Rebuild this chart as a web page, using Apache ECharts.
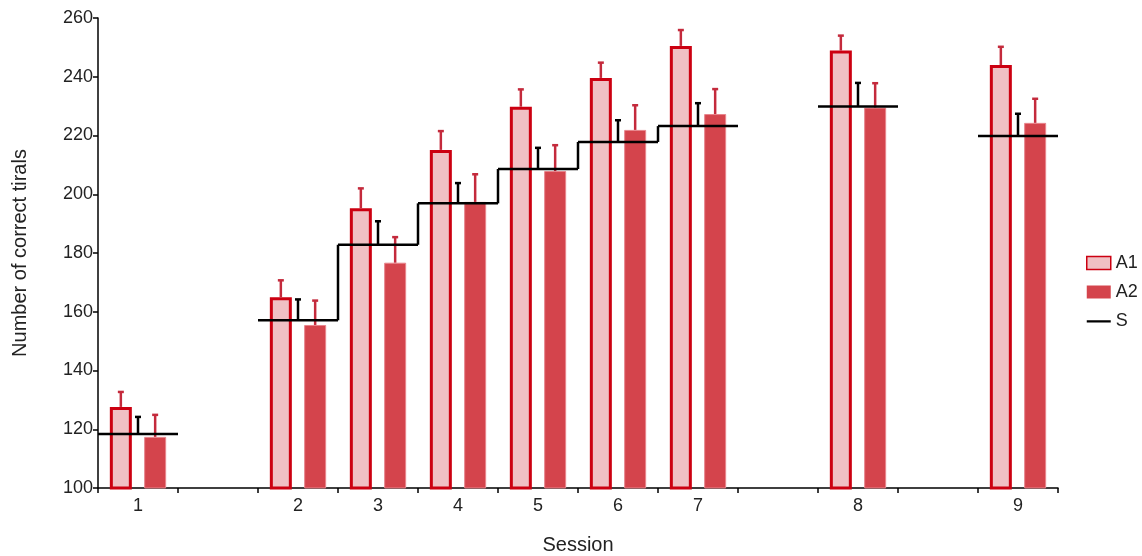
<!DOCTYPE html>
<html>
<head>
<meta charset="utf-8">
<script src="https://cdn.jsdelivr.net/npm/echarts@6/dist/echarts.min.js"></script>
<style>
  html, body { margin: 0; padding: 0; background: #fff; }
  #chart { width: 1142px; height: 556px; }
</style>
</head>
<body>
<div id="chart"></div>
<script>
// Sessions and the sessions that are preceded by an empty slot on the axis
const sessions = ['1', '2', '3', '4', '5', '6', '7', '8', '9'];
const spacerBefore = ['2', '8', '9'];

// Mean number of correct trials per session and group
const a1Values = [127.6, 164.9, 195.2, 215.1, 229.8, 239.6, 250.5, 248.9, 244.0];
const a2Values = [117.4, 155.5, 176.7, 197.4, 207.9, 221.9, 227.3, 229.5, 224.3];
const sValues  = [118.4, 157.1, 182.8, 196.9, 208.6, 217.8, 223.2, 229.9, 219.8];

// Upper error (one-sided) per session
const a1Err = [5.1, 5.8, 6.8, 6.4, 5.9, 5.2, 5.4, 5.1, 6.2];
const a2Err = [7.5, 8.3, 8.7, 9.4, 8.8, 8.4, 8.5, 8.3, 8.2];
const sErr  = [5.8, 7.1, 8.0, 6.9, 7.2, 7.4, 7.8, 8.0, 7.6];

const yTicks = { min: 100, max: 260, interval: 20 };

// Build the axis categories with empty spacer slots
const axisCats = [];
const slotOf = [];
let spacerCount = 0;
sessions.forEach((s) => {
  if (spacerBefore.includes(s)) axisCats.push('_gap' + (spacerCount++));
  slotOf.push(axisCats.length);
  axisCats.push(s);
});
function toSlots(arr) {
  const out = axisCats.map(() => null);
  arr.forEach((v, i) => { out[slotOf[i]] = v; });
  return out;
}

const BAR_W = 22;
const BAR_GAP = 0.56;
const barOffset = (BAR_W + BAR_W * BAR_GAP) / 2; // centre offset of each bar from slot centre

const errRed = '#c42a3c';
const fontFamily = '"Liberation Sans", Arial, sans-serif';

function errorData(vals, errs) {
  return vals.map((v, i) => [slotOf[i], v, errs[i]]);
}

function makeErrorRenderer(dx, color) {
  return function (params, api) {
    const base = api.coord([api.value(0), api.value(1)]);
    const top = api.coord([api.value(0), api.value(1) + api.value(2)]);
    const x = base[0] + dx;
    const style = { stroke: color, lineWidth: 2.5 };
    return {
      type: 'group',
      children: [
        { type: 'line', shape: { x1: x, y1: base[1], x2: x, y2: top[1] }, style },
        { type: 'line', shape: { x1: x - 3, y1: top[1], x2: x + 3, y2: top[1] }, style }
      ]
    };
  };
}

// Step line for S: one level per session spanning its slot, joined to the next
// session when they are adjacent on the axis, plus its upper error bar.
function renderS(params, api) {
  const i = params.dataIndex;
  const slot = api.value(0);
  const band = api.size([1, 0])[0];
  const p = api.coord([slot, api.value(1)]);
  const top = api.coord([slot, api.value(1) + api.value(2)]);
  const lineStyle = { stroke: '#000', lineWidth: 2.5 };
  const children = [
    { type: 'line', shape: { x1: p[0] - band / 2, y1: p[1], x2: p[0] + band / 2, y2: p[1] }, style: lineStyle },
    { type: 'line', shape: { x1: p[0], y1: p[1], x2: p[0], y2: top[1] }, style: lineStyle },
    { type: 'line', shape: { x1: p[0] - 3, y1: top[1], x2: p[0] + 3, y2: top[1] }, style: lineStyle }
  ];
  if (i > 0 && slotOf[i - 1] === slot - 1) {
    const prev = api.coord([slot - 1, sValues[i - 1]]);
    const xb = p[0] - band / 2;
    children.push({ type: 'line', shape: { x1: xb, y1: prev[1], x2: xb, y2: p[1] }, style: lineStyle });
  }
  return { type: 'group', children };
}

const chart = echarts.init(document.getElementById('chart'), null, { renderer: 'canvas' });

chart.setOption({
  animation: false,
  textStyle: { fontFamily },
  grid: { left: 98, right: 84, top: 18, bottom: 68, containLabel: false, outerBoundsMode: 'none' },
  legend: {
    orient: 'vertical',
    left: 1086,
    top: 254,
    padding: 0,
    itemWidth: 24,
    itemHeight: 13,
    itemGap: 11,
    textStyle: { fontSize: 18, color: '#222', fontFamily },
    data: [
      { name: 'A1', icon: 'rect', itemStyle: { color: '#f0c0c4', borderColor: '#cc0011', borderWidth: 1.5 } },
      { name: 'A2', icon: 'rect', itemStyle: { color: '#d4444c', borderWidth: 0 } },
      { name: 'S', icon: 'path://M0,0h24v0.01h-24z M0,5.7h24v2.2h-24z M0,13h24v0.01h-24z', itemStyle: { color: '#000' } }
    ]
  },
  xAxis: {
    type: 'category',
    data: axisCats,
    boundaryGap: true,
    name: 'Session',
    nameLocation: 'middle',
    nameGap: 47,
    nameTextStyle: { fontSize: 20, color: '#222', fontFamily },
    axisLine: { lineStyle: { color: '#000', width: 1.5 } },
    axisTick: { show: true, interval: 0, length: 5, lineStyle: { color: '#000', width: 1.5 } },
    axisLabel: {
      interval: 0,
      margin: 9,
      fontSize: 18,
      color: '#222',
      fontFamily,
      formatter: (v) => (v.startsWith('_gap') ? '' : v)
    },
    splitLine: { show: false }
  },
  yAxis: {
    type: 'value',
    min: yTicks.min,
    max: yTicks.max,
    interval: yTicks.interval,
    name: 'Number of correct tirals',
    nameLocation: 'middle',
    nameGap: 68,
    nameTextStyle: { fontSize: 20, color: '#222', fontFamily },
    axisLine: { show: true, lineStyle: { color: '#000', width: 1.5 } },
    axisTick: { show: true, length: 5, lineStyle: { color: '#000', width: 1.5 } },
    axisLabel: { fontSize: 18, color: '#222', margin: 5, fontFamily },
    splitLine: { show: false }
  },
  series: [
    {
      name: 'A1',
      type: 'bar',
      data: toSlots(a1Values),
      barWidth: BAR_W,
      barGap: (BAR_GAP * 100) + '%',
      itemStyle: { color: '#f0c0c4', borderColor: '#cc0011', borderWidth: 3 },
      z: 2
    },
    {
      name: 'A2',
      type: 'bar',
      data: toSlots(a2Values),
      barWidth: BAR_W,
      itemStyle: { color: '#d4444c', borderColor: '#e8858c', borderWidth: 1 },
      z: 2
    },
    {
      name: 'A1',
      type: 'custom',
      data: errorData(a1Values, a1Err),
      renderItem: makeErrorRenderer(-barOffset, errRed),
      encode: { x: 0, y: 1 },
      z: 3
    },
    {
      name: 'A2',
      type: 'custom',
      data: errorData(a2Values, a2Err),
      renderItem: makeErrorRenderer(barOffset, errRed),
      encode: { x: 0, y: 1 },
      z: 3
    },
    {
      name: 'S',
      type: 'custom',
      data: errorData(sValues, sErr),
      renderItem: renderS,
      encode: { x: 0, y: 1 },
      z: 4
    }
  ]
});
</script>
</body>
</html>
